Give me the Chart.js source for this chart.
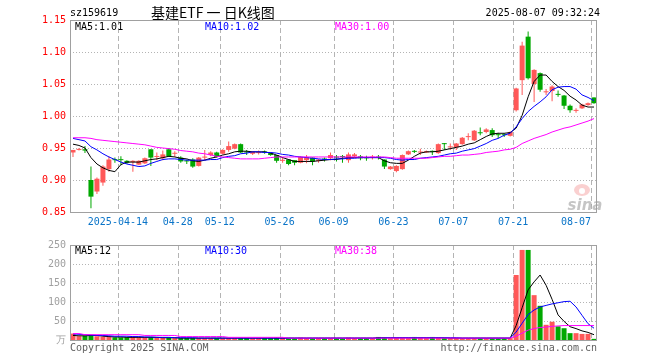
<!DOCTYPE html>
<html>
<head>
<meta charset="utf-8">
<script src="https://cdn.jsdelivr.net/npm/chart.js@4.4.0/dist/chart.umd.min.js"></script>
<style>
html, body { margin: 0; padding: 0; background: #fff; }
#wrap { position: relative; width: 660px; height: 360px; }
#kline { position: absolute; left: 0; top: 0; }
#vol { position: absolute; left: 0; top: 235px; }
</style>
</head>
<body>
<div id="wrap">
  <canvas id="kline" width="660" height="235"></canvas>
  <canvas id="vol" width="660" height="125"></canvas>
</div>
<script>
// --- data (sz159619), one slot per trading day ---
const opens = [
  0.943, 0.947, 0.948, 0.900, 0.882, 0.896, 0.917, 0.932, 0.932, 0.930,
  0.928, 0.924, 0.926, 0.948, 0.936, 0.934, 0.948, 0.941, 0.935, 0.930,
  0.932, 0.922, 0.935, 0.939, 0.943, 0.941, 0.947, 0.949, 0.956, 0.944,
  0.941, 0.942, 0.944, 0.942, 0.939, 0.930, 0.932, 0.931, 0.927, 0.931,
  0.935, 0.930, 0.933, 0.934, 0.936, 0.937, 0.931, 0.937, 0.937, 0.935,
  0.935, 0.936, 0.932, 0.917, 0.914, 0.917, 0.940, 0.945, 0.943, 0.943,
  0.945, 0.942, 0.957, 0.951, 0.951, 0.956, 0.967, 0.962, 0.974, 0.975,
  0.978, 0.971, 0.971, 0.969, 1.009, 1.056, 1.124, 1.050, 1.067, 1.037,
  1.039, 1.034, 1.032, 1.016, 1.008, 1.012, 1.017, 1.029
];
const closes = [
  0.947, 0.948, 0.946, 0.874, 0.902, 0.921, 0.932, 0.931, 0.931, 0.927,
  0.930, 0.930, 0.934, 0.935, 0.937, 0.940, 0.937, 0.942, 0.929, 0.929,
  0.921, 0.935, 0.936, 0.943, 0.936, 0.947, 0.953, 0.956, 0.943, 0.943,
  0.944, 0.943, 0.943, 0.939, 0.930, 0.931, 0.925, 0.927, 0.936, 0.936,
  0.929, 0.932, 0.932, 0.939, 0.935, 0.936, 0.940, 0.940, 0.934, 0.934,
  0.936, 0.935, 0.921, 0.921, 0.922, 0.939, 0.945, 0.944, 0.944, 0.945,
  0.944, 0.956, 0.956, 0.952, 0.957, 0.966, 0.968, 0.977, 0.973, 0.979,
  0.970, 0.970, 0.970, 0.975, 1.043, 1.110, 1.059, 1.072, 1.041, 1.038,
  1.046, 1.033, 1.016, 1.009, 1.009, 1.018, 1.020, 1.020
];
const highs = [
  0.947, 0.950, 0.953, 0.921, 0.904, 0.923, 0.937, 0.935, 0.937, 0.931,
  0.931, 0.931, 0.935, 0.948, 0.943, 0.946, 0.950, 0.945, 0.937, 0.932,
  0.934, 0.936, 0.947, 0.945, 0.944, 0.948, 0.960, 0.957, 0.957, 0.947,
  0.945, 0.946, 0.946, 0.943, 0.939, 0.936, 0.933, 0.931, 0.937, 0.939,
  0.935, 0.933, 0.935, 0.943, 0.939, 0.939, 0.943, 0.942, 0.939, 0.938,
  0.939, 0.939, 0.932, 0.922, 0.923, 0.940, 0.946, 0.947, 0.949, 0.946,
  0.946, 0.957, 0.958, 0.957, 0.958, 0.967, 0.973, 0.978, 0.982, 0.981,
  0.981, 0.974, 0.973, 0.976, 1.044, 1.116, 1.132, 1.073, 1.068, 1.042,
  1.048, 1.040, 1.033, 1.018, 1.012, 1.019, 1.021, 1.029
];
const lows = [
  0.936, 0.946, 0.942, 0.856, 0.878, 0.891, 0.913, 0.927, 0.923, 0.925,
  0.913, 0.923, 0.925, 0.922, 0.931, 0.931, 0.936, 0.936, 0.927, 0.925,
  0.919, 0.921, 0.931, 0.937, 0.935, 0.940, 0.944, 0.948, 0.942, 0.939,
  0.939, 0.940, 0.941, 0.938, 0.927, 0.927, 0.923, 0.923, 0.926, 0.926,
  0.923, 0.927, 0.929, 0.931, 0.929, 0.927, 0.927, 0.935, 0.931, 0.930,
  0.932, 0.932, 0.917, 0.916, 0.912, 0.916, 0.939, 0.942, 0.939, 0.942,
  0.939, 0.941, 0.947, 0.947, 0.947, 0.955, 0.962, 0.961, 0.970, 0.973,
  0.967, 0.965, 0.967, 0.968, 1.007, 1.033, 1.057, 1.022, 1.038, 1.033,
  1.023, 1.030, 1.011, 1.005, 1.005, 1.011, 1.016, 1.019
];
const ma5 = [
  0.956, 0.954, 0.950, 0.935, 0.925, 0.919, 0.915, 0.913, 0.924, 0.928,
  0.928, 0.928, 0.930, 0.932, 0.933, 0.935, 0.937, 0.936, 0.934, 0.933,
  0.930, 0.929, 0.931, 0.934, 0.936, 0.939, 0.941, 0.944, 0.945, 0.945,
  0.944, 0.944, 0.944, 0.942, 0.939, 0.935, 0.932, 0.929, 0.929, 0.929,
  0.929, 0.930, 0.931, 0.932, 0.932, 0.934, 0.935, 0.935, 0.935, 0.935,
  0.935, 0.935, 0.930, 0.927, 0.926, 0.926, 0.931, 0.937, 0.942, 0.944,
  0.944, 0.945, 0.947, 0.949, 0.951, 0.953, 0.956, 0.958, 0.963, 0.968,
  0.972, 0.973, 0.973, 0.974, 0.981, 1.001, 1.030, 1.054, 1.064, 1.064,
  1.054, 1.046, 1.040, 1.031, 1.025, 1.017, 1.014, 1.014
];
const ma10 = [
  0.965, 0.963, 0.961, 0.952, 0.947, 0.941, 0.936, 0.932, 0.928, 0.925,
  0.923, 0.921, 0.922, 0.926, 0.929, 0.932, 0.933, 0.933, 0.932, 0.931,
  0.931, 0.931, 0.931, 0.932, 0.932, 0.935, 0.937, 0.938, 0.941, 0.942,
  0.944, 0.944, 0.943, 0.943, 0.942, 0.940, 0.939, 0.937, 0.936, 0.935,
  0.934, 0.933, 0.932, 0.932, 0.933, 0.933, 0.934, 0.934, 0.935, 0.935,
  0.935, 0.935, 0.935, 0.934, 0.932, 0.931, 0.932, 0.932, 0.934, 0.935,
  0.936, 0.937, 0.939, 0.941, 0.942, 0.945, 0.947, 0.949, 0.953, 0.957,
  0.962, 0.965, 0.970, 0.973, 0.983, 0.996, 1.007, 1.015, 1.022, 1.030,
  1.041, 1.045, 1.046, 1.046, 1.042, 1.033, 1.029, 1.024
];
const ma30 = [
  0.966, 0.966, 0.966, 0.965, 0.963, 0.962, 0.961, 0.960, 0.959, 0.958,
  0.957, 0.956, 0.955, 0.953, 0.951, 0.950, 0.949, 0.948, 0.946, 0.945,
  0.944, 0.942, 0.941, 0.939, 0.937, 0.936, 0.935, 0.934, 0.933, 0.933,
  0.933, 0.933, 0.934, 0.935, 0.936, 0.936, 0.936, 0.936, 0.936, 0.936,
  0.936, 0.936, 0.936, 0.936, 0.936, 0.936, 0.936, 0.936, 0.936, 0.936,
  0.936, 0.936, 0.936, 0.935, 0.934, 0.934, 0.934, 0.934, 0.934, 0.934,
  0.935, 0.936, 0.937, 0.937, 0.938, 0.939, 0.939, 0.940, 0.941, 0.943,
  0.944, 0.945, 0.947, 0.948, 0.951, 0.957, 0.961, 0.965, 0.968, 0.971,
  0.975, 0.978, 0.981, 0.983, 0.986, 0.989, 0.992, 0.996
];
// volume in 万 (10k) units
const volumes = [
  17, 10, 11, 11, 10, 8, 8, 7, 7, 7,
  8, 7, 7, 7, 6, 6, 6, 5, 5, 5,
  5, 5, 5, 5, 5, 5, 5, 5, 5, 5,
  5, 5, 5, 5, 6, 5, 5, 5, 6, 5,
  5, 5, 5, 5, 5, 5, 6, 5, 5, 5,
  5, 8, 7, 5, 6, 6, 5, 8, 6, 5,
  8, 6, 5, 5, 5, 5, 5, 5, 5, 5,
  5, 5, 5, 5, 171, 237, 237, 118, 90, 40,
  48, 36, 31, 18, 18, 16, 16, 3
];
const vma5 = [
  12, 11, 11, 12, 12, 10, 9, 8, 8, 7,
  7, 7, 7, 7, 7, 6, 6, 6, 5, 5,
  5, 5, 5, 5, 5, 5, 5, 5, 5, 5,
  5, 5, 5, 5, 5, 5, 5, 5, 5, 5,
  5, 5, 5, 5, 5, 5, 5, 5, 5, 5,
  5, 6, 6, 6, 6, 6, 6, 6, 6, 6,
  6, 6, 6, 5, 5, 5, 5, 5, 5, 5,
  5, 5, 5, 5, 38, 85, 132, 153, 171, 144,
  107, 66, 49, 35, 30, 24, 20, 14
];
const vma10 = [
  16, 15, 14, 13, 12, 12, 11, 10, 10, 10,
  9, 9, 8, 8, 7, 7, 7, 6, 6, 6,
  6, 5, 5, 5, 5, 5, 5, 5, 5, 5,
  5, 5, 5, 5, 5, 5, 5, 5, 5, 5,
  5, 5, 5, 5, 5, 5, 5, 5, 5, 5,
  5, 5, 6, 6, 6, 6, 6, 6, 6, 6,
  6, 6, 6, 6, 6, 5, 5, 5, 5, 5,
  5, 5, 5, 5, 21, 44, 67, 79, 87, 91,
  95, 98, 101, 102, 87, 65, 43, 31
];
const vma30 = [
  17, 17, 14, 14, 14, 14, 14, 14, 14, 14,
  14, 14, 12, 12, 12, 12, 12, 12, 9, 9,
  9, 9, 9, 9, 9, 9, 7, 7, 7, 7,
  7, 7, 7, 7, 7, 7, 5, 5, 5, 5,
  5, 5, 5, 5, 5, 5, 5, 5, 5, 5,
  5, 5, 5, 5, 5, 5, 5, 5, 5, 5,
  5, 5, 5, 5, 5, 5, 5, 5, 5, 5,
  5, 5, 5, 5, 10, 18, 26, 30, 33, 34,
  36, 37, 38, 38, 38, 38, 38, 38
];
const dateIdx = [8, 18, 25, 35, 44, 54, 64, 74, 87];
const dateLabels = ['2025-04-14', '04-28', '05-12', '05-26', '06-09', '06-23', '07-07', '07-21', '08-07'];
const priceTicks = [0.85, 0.90, 0.95, 1.00, 1.05, 1.10, 1.15];
const volTicks = [0, 50, 100, 150, 200, 250];
const lastMA = { ma5: '1.01', ma10: '1.02', ma30: '1.00' };
const lastVMA = { ma5: '12', ma10: '30', ma30: '38' };

const UP = '#ff5858';
const DOWN = '#00a800';
const MONO = '10px "DejaVu Sans Mono", "Liberation Mono", monospace';
const slots = closes.length;   // 88

const candleColors = closes.map((c, i) => c >= opens[i] ? UP : DOWN);
const xy = arr => arr.map((v, i) => ({ x: i + 0.5, y: v }));

function line(ctx, x1, y1, x2, y2) {
    ctx.beginPath(); ctx.moveTo(x1, y1); ctx.lineTo(x2, y2); ctx.stroke();
}

function drawGrid(chart, hTicks) {
    const { ctx, chartArea: a, scales: { x, y } } = chart;
    ctx.save();
    ctx.strokeStyle = '#b4b4b4';
    ctx.lineWidth = 1;
    ctx.setLineDash([1, 2]);
    hTicks.forEach(v => {
        const py = Math.round(y.getPixelForValue(v)) + 0.5;
        line(ctx, a.left, py, a.right, py);
    });
    ctx.setLineDash([5, 3]);
    dateIdx.forEach(v => {
        const px = Math.round(x.getPixelForValue(v)) + 0.5;
        line(ctx, px, a.top, px, a.bottom);
    });
    ctx.restore();
}

function drawFrame(chart) {
    const { ctx, chartArea: a } = chart;
    ctx.save();
    ctx.strokeStyle = '#a0a0a0';
    ctx.lineWidth = 1;
    ctx.strokeRect(a.left + 0.5, a.top + 0.5, a.right - a.left - 1, a.bottom - a.top);
    ctx.restore();
}

function drawLegend(ctx, top, vals) {
    ctx.font = MONO;
    ctx.textBaseline = 'middle';
    ctx.textAlign = 'left';
    ctx.fillStyle = '#000';
    ctx.fillText('MA5:' + vals.ma5, 75, top);
    ctx.fillStyle = '#0000ff';
    ctx.fillText('MA10:' + vals.ma10, 205, top);
    ctx.fillStyle = '#ff00ff';
    ctx.fillText('MA30:' + vals.ma30, 335, top);
}

const mainDecor = {
    id: 'mainDecor',
    beforeDatasetsDraw(chart) {
        const { ctx } = chart;
        drawGrid(chart, [0.90, 0.95, 1.00, 1.05, 1.10]);
        // sina watermark
        ctx.save();
        ctx.fillStyle = 'rgba(240,120,120,0.35)';
        ctx.beginPath(); ctx.ellipse(582, 190, 8, 6, 0, 0, Math.PI * 2); ctx.fill();
        ctx.fillStyle = '#fff';
        ctx.beginPath(); ctx.arc(582, 191, 3, 0, Math.PI * 2); ctx.fill();
        ctx.font = 'italic bold 15px "DejaVu Sans", sans-serif';
        ctx.fillStyle = 'rgba(150,150,150,0.55)';
        ctx.textAlign = 'center';
        ctx.textBaseline = 'alphabetic';
        ctx.fillText('sina', 585, 210);
        ctx.restore();
    },
    afterDraw(chart) {
        const { ctx, chartArea: a, scales: { x } } = chart;
        drawFrame(chart);
        ctx.save();
        ctx.font = MONO;
        ctx.textBaseline = 'middle';
        ctx.fillStyle = '#000';
        ctx.textAlign = 'left';
        ctx.fillText('sz159619', 70, 13);
        ctx.textAlign = 'right';
        ctx.fillText('2025-08-07 09:32:24', 600, 13);
        ctx.font = '14px "Noto Sans CJK SC", sans-serif';
        ctx.textAlign = 'left';
        ctx.fillText('基建ETF 一 日K线图', 151, 13);
        drawLegend(ctx, 27, lastMA);
        // date labels under the price panel
        ctx.font = MONO;
        ctx.fillStyle = '#0a74c8';
        dateIdx.forEach((v, k) => {
            const px = x.getPixelForValue(v);
            const w = ctx.measureText(dateLabels[k]).width;
            let left = px - w / 2;
            if (left + w > a.right - 6) left = a.right - 6 - w;
            ctx.textAlign = 'left';
            ctx.fillText(dateLabels[k], left, a.bottom + 10);
        });
        ctx.restore();
    }
};

const volDecor = {
    id: 'volDecor',
    beforeDatasetsDraw(chart) {
        drawGrid(chart, [50, 100, 150, 200]);
    },
    afterDraw(chart) {
        const { ctx, chartArea: a } = chart;
        drawFrame(chart);
        ctx.save();
        drawLegend(ctx, a.top + 6, lastVMA);
        ctx.font = MONO;
        ctx.fillStyle = '#606060';
        ctx.textBaseline = 'middle';
        ctx.textAlign = 'left';
        ctx.fillText('Copyright 2025 SINA.COM', 70, a.bottom + 8);
        ctx.textAlign = 'right';
        ctx.fillText('http://finance.sina.com.cn', 597, a.bottom + 8);
        ctx.restore();
    }
};

const xScale = {
    type: 'linear', min: 0, max: slots, offset: false, display: false
};

function yScale(opts) {
    return Object.assign({
        position: 'left',
        grid: { display: false, drawTicks: false },
        border: { display: false },
        afterFit: s => { s.width = 70; }
    }, opts);
}

const lineDs = (data, color) => ({
    type: 'line', data: xy(data), borderColor: color, borderWidth: 1,
    pointRadius: 0, tension: 0, order: 0
});

Chart.defaults.animation = false;

new Chart(document.getElementById('kline'), {
    type: 'bar',
    data: {
        datasets: [
            lineDs(ma30, '#ff00ff'),
            lineDs(ma10, '#0000ff'),
            lineDs(ma5, '#000000'),
            {
                data: opens.map((o, i) => ({ x: i + 0.5, y: [o, closes[i]] })),
                backgroundColor: candleColors, borderWidth: 0, inflateAmount: 0,
                barThickness: 5, minBarLength: 1, grouped: false, order: 1
            },
            {
                data: lows.map((l, i) => ({ x: i + 0.5, y: [l, highs[i]] })),
                backgroundColor: candleColors, borderWidth: 0, inflateAmount: 0,
                barThickness: 1, grouped: false, order: 2
            }
        ]
    },
    options: {
        responsive: false,
        layout: { padding: { left: 0, top: 20, right: 63, bottom: 23 } },
        plugins: { legend: { display: false }, tooltip: { enabled: false } },
        scales: {
            x: xScale,
            y: yScale({
                min: 0.85, max: 1.15,
                afterBuildTicks: s => { s.ticks = priceTicks.map(v => ({ value: v })); },
                ticks: { color: '#ff0000', font: { family: '"DejaVu Sans Mono", monospace', size: 10 }, padding: 4,
                    callback: v => v.toFixed(2) }
            })
        }
    },
    plugins: [mainDecor]
});

new Chart(document.getElementById('vol'), {
    type: 'bar',
    data: {
        datasets: [
            lineDs(vma30, '#ff00ff'),
            lineDs(vma10, '#0000ff'),
            lineDs(vma5, '#000000'),
            {
                data: xy(volumes),
                backgroundColor: candleColors, borderWidth: 0, inflateAmount: 0,
                barThickness: 5, grouped: false, order: 1
            }
        ]
    },
    options: {
        responsive: false,
        layout: { padding: { left: 0, top: 5, right: 63, bottom: 20 } },
        plugins: { legend: { display: false }, tooltip: { enabled: false } },
        scales: {
            x: xScale,
            y: yScale({
                min: 0, max: 250,
                afterBuildTicks: s => { s.ticks = volTicks.map(v => ({ value: v })); },
                ticks: { color: '#a0a0a0', font: { family: '"DejaVu Sans Mono", monospace', size: 10 }, padding: 4,
                    callback: v => v === 0 ? '万' : String(v) }
            })
        }
    },
    plugins: [volDecor]
});
</script>
</body>
</html>
